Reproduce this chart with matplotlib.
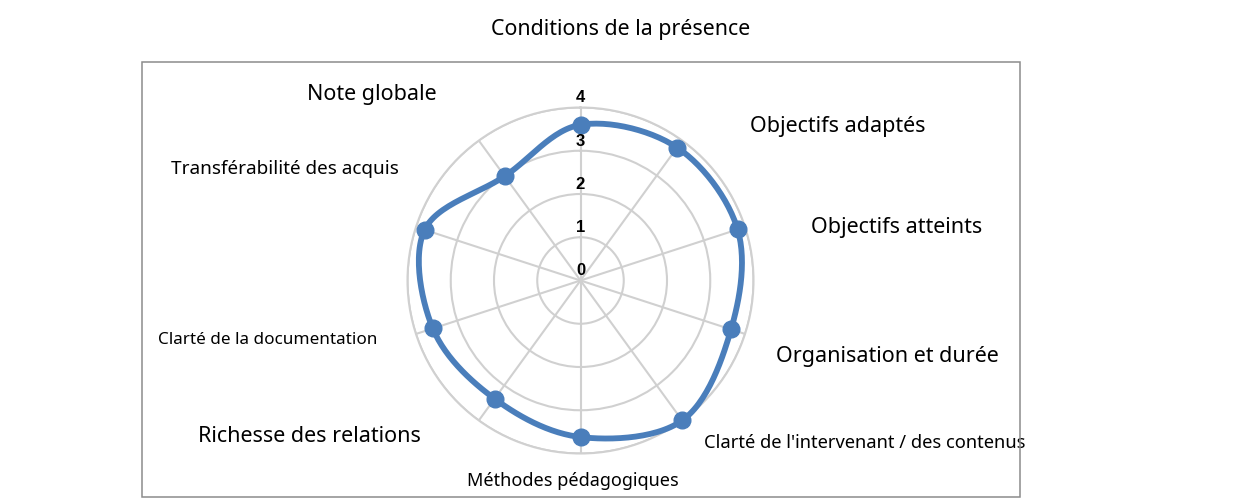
import numpy as np
import matplotlib
matplotlib.use("Agg")
import matplotlib.pyplot as plt
from matplotlib.patches import Rectangle

# data
categories = ["", "Objectifs adaptés", "Objectifs atteints", "Organisation et durée",
              "Clarté de l'intervenant / des contenus", "Méthodes pédagogiques",
              "Richesse des relations", "Clarté de la documentation",
              "Transférabilité des acquis", "Note globale"]
scores = [3.60, 3.80, 3.82, 3.66, 4.00, 3.62, 3.38, 3.59, 3.79, 2.98]
r_ticks = [0, 1, 2, 3, 4]
title = "Conditions de la présence"

# where the Excel-like layout puts each category label (angle in deg, radius in data units)
label_pos = [(0, 4.6), (59.1, 6.93), (80.5, 7.41), (103.9, 7.31), (119.7, 7.56),
             (182.1, 4.65), (240.1, 7.23), (259.3, 7.36), (290.6, 7.30), (311.7, 6.47)]
label_size = [15.5, 15.5, 15.5, 15.5, 13.2, 13.0, 15.5, 12.3, 13.6, 15.5]

plt.rcParams['font.family'] = ['Noto Sans', 'DejaVu Sans']

W, H = 1240, 503
fig = plt.figure(figsize=(W / 100, H / 100), dpi=100)

# outer chart frame
fig.patches.append(Rectangle((142 / W, 1 - 497 / H), (1020 - 142) / W, (497 - 62) / H,
                             transform=fig.transFigure, fill=False,
                             edgecolor="#8c8c8c", lw=1.1, zorder=0))
fig.text(621 / W, 1 - 29 / H, title, ha="center", va="center", fontsize=15.4)

cx, cy, R = 580.5, 280.5, 173
ax = fig.add_axes([(cx - R) / W, (H - cy - R) / H, 2 * R / W, 2 * R / H], projection="polar")
ax.set_theta_zero_location("N")
ax.set_theta_direction(-1)
ax.patch.set_alpha(0)

n = len(categories)
angles = np.arange(n) * 2 * np.pi / n
ax.set_ylim(0, r_ticks[-1])
ax.set_yticks(r_ticks[1:])
ax.set_yticklabels([])
ax.set_xticks(angles)
ax.set_xticklabels([])
ax.grid(True, color="#d0d0d0", lw=1.5)
ax.spines["polar"].set_color("#d0d0d0")
ax.spines["polar"].set_linewidth(1.5)
ax.tick_params(length=0)

# smoothed closed line (Excel style), Catmull-Rom through the points in x/y space
px = np.array(scores) * np.sin(angles)
py = np.array(scores) * np.cos(angles)
t = np.linspace(0, 1, 30)[:, None]
xs, ys = [], []
for i in range(n):
    p0 = np.array([px[i - 1], py[i - 1]])
    p1 = np.array([px[i], py[i]])
    p2 = np.array([px[(i + 1) % n], py[(i + 1) % n]])
    p3 = np.array([px[(i + 2) % n], py[(i + 2) % n]])
    c1 = p1 + (p2 - p0) / 6
    c2 = p2 - (p3 - p1) / 6
    seg = ((1 - t) ** 3) * p1 + 3 * ((1 - t) ** 2) * t * c1 + 3 * (1 - t) * t ** 2 * c2 + t ** 3 * p2
    xs.extend(seg[:, 0])
    ys.extend(seg[:, 1])
xs, ys = np.array(xs), np.array(ys)
ax.plot(np.arctan2(xs, ys), np.hypot(xs, ys), color="#4a7ebb", lw=4.2,
        solid_joinstyle="round", zorder=3, clip_on=False)
ax.plot(angles, scores, "o", color="#4a7ebb", ms=12, zorder=4, clip_on=False)

for r in r_ticks:
    ax.text(0, r + 0.22, str(r), ha="center", va="center", fontsize=12,
            fontweight="bold", family="Liberation Sans", zorder=5)

for lab, (ang, rad), fs in zip(categories, label_pos, label_size):
    if lab:
        ax.text(np.deg2rad(ang), rad, lab, ha="center", va="center", fontsize=fs,
                clip_on=False, bbox=dict(facecolor="white", edgecolor="none", pad=1))

fig.savefig("out.png", dpi=100, facecolor="white")
